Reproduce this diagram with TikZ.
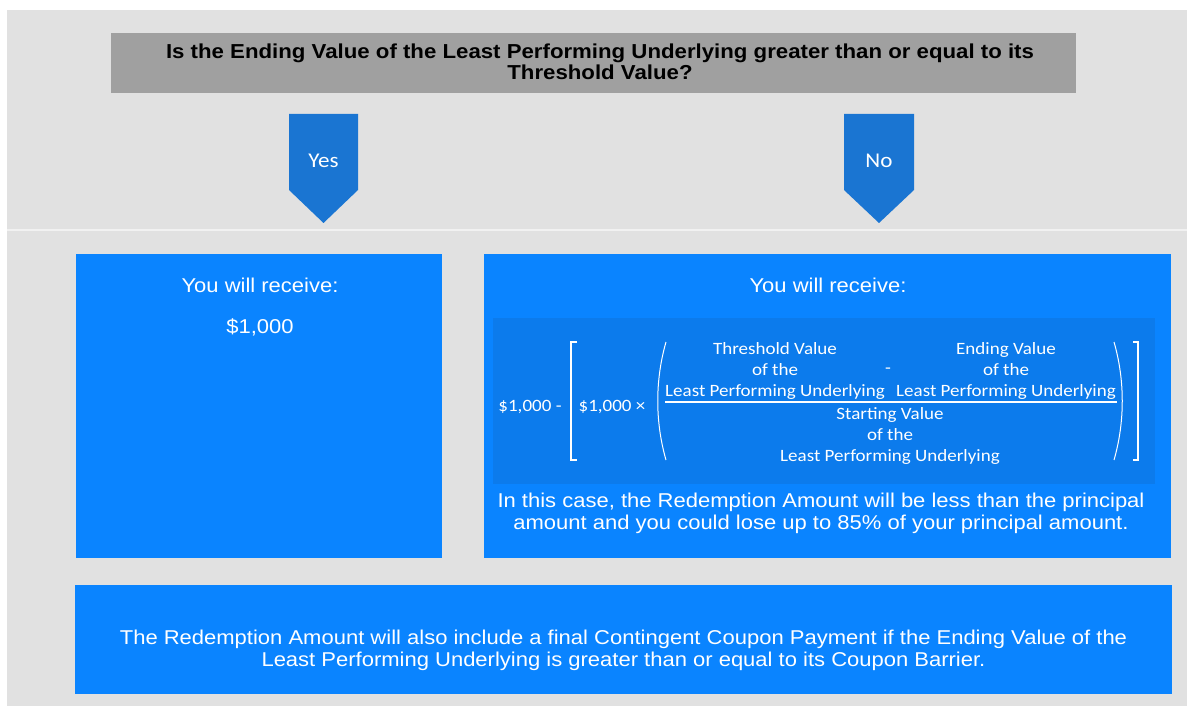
\documentclass[tikz,border=0pt]{standalone}
\usepackage{fontspec}
\setmainfont{Liberation Sans}[FakeStretch=1.1]
\newfontfamily\calibri{Carlito}[FakeStretch=1.1]
\usepackage{tikz}
\usetikzlibrary{positioning}

\definecolor{panelgrey}{HTML}{E1E1E1}
\definecolor{bargrey}{HTML}{A0A0A0}
\definecolor{chevblue}{HTML}{1A75D2}
\definecolor{boxblue}{HTML}{0A84FF}
\definecolor{formblue}{HTML}{0C7BEC}

\tikzset{
  bluebox/.style={fill=boxblue, anchor=north west, inner sep=0pt},
  boxtext/.style={text=white, align=center, inner sep=0pt,
    font=\fontsize{20}{22}\selectfont},
  calc/.style={text=white, align=center, inner sep=0pt,
    font=\calibri\fontsize{17.3}{21}\selectfont},
  chevtext/.style={text=white, inner sep=0pt,
    font=\calibri\fontsize{21}{24}\selectfont},
  bracket/.style={white, line width=1.3pt},
}

\begin{document}
\begin{tikzpicture}[x=1pt, y=-1pt]
  \useasboundingbox (0,0) rectangle (1187,706);

  % Grey panel.
  \fill[panelgrey] (7,10) rectangle (1187,706);
  \draw[white!55!panelgrey, line width=2pt] (7,230) -- (1187,230);

  % Question.
  \node[fill=bargrey, anchor=north west, minimum width=965, minimum height=60, inner sep=0pt] (qbar) at (111,33) {};
  \node[align=center, inner sep=0pt, font=\bfseries\fontsize{20.2}{21}\selectfont] (question) at (600,62)
    {Is the Ending Value of the Least Performing Underlying greater than or equal to its\\Threshold Value?};

  % Yes and No chevrons.
  \fill[chevblue] (289,114) -- (358,114) -- (358,190) -- (323.5,223) -- (289,190) -- cycle;
  \fill[chevblue] (844,114) -- (914,114) -- (914,190) -- (879,223) -- (844,190) -- cycle;
  \node[chevtext] (yes) at (323.5,161) {Yes};
  \node[chevtext] (no) at (879,161) {No};

  % Left box.
  \node[bluebox, minimum width=366, minimum height=304] (yesbox) at (76,254) {};
  \node[boxtext] (yesget) at (260,285) {You will receive:};
  \node[boxtext, below=42pt of yesget.center, anchor=center] (yesamount) {\$1,000};

  % Right box.
  \node[bluebox, minimum width=687, minimum height=304] (nobox) at (484,254) {};
  \node[boxtext] (noget) at (828,285) {You will receive:};
  \fill[formblue] (493,318) rectangle (1155,484);

  % Formula.
  \node[calc] (principal) at (530,407) {\$1,000 -};
  \node[calc] (times) at (612,407) {\$1,000 ×};
  \node[calc] (thresh) at (775,371) {Threshold Value\\of the\\Least Performing Underlying};
  \node[calc] (minus) at (888,371) {-};
  \node[calc] (ending) at (1006,371) {Ending Value\\of the\\Least Performing Underlying};
  \node[calc] (start) at (890,436) {Starting Value\\of the\\Least Performing Underlying};
  \draw[white, line width=1.2pt] (665,402) -- (1117,402);

  % Brackets and parentheses.
  \draw[bracket] (577,342) -- (571,342) -- (571,460) -- (577,460);
  \draw[bracket] (1133,342) -- (1138,342) -- (1138,460) -- (1133,460);
  \draw[bracket, line width=1pt] (666,342) .. controls (655,380) and (655,422) .. (666,460);
  \draw[bracket, line width=1pt] (1114,342) .. controls (1125,380) and (1125,422) .. (1114,460);

  \node[boxtext] (loss) at (821,513)
    {In this case, the Redemption Amount will be less than the principal\\amount and you could lose up to 85\% of your principal amount.};

  % Bottom box.
  \node[bluebox, minimum width=1097, minimum height=109] (note) at (75,585) {};
  \node[boxtext] (notetext) at (623.5,650)
    {The Redemption Amount will also include a final Contingent Coupon Payment if the Ending Value of the\\Least Performing Underlying is greater than or equal to its Coupon Barrier.};

\end{tikzpicture}
\end{document}
